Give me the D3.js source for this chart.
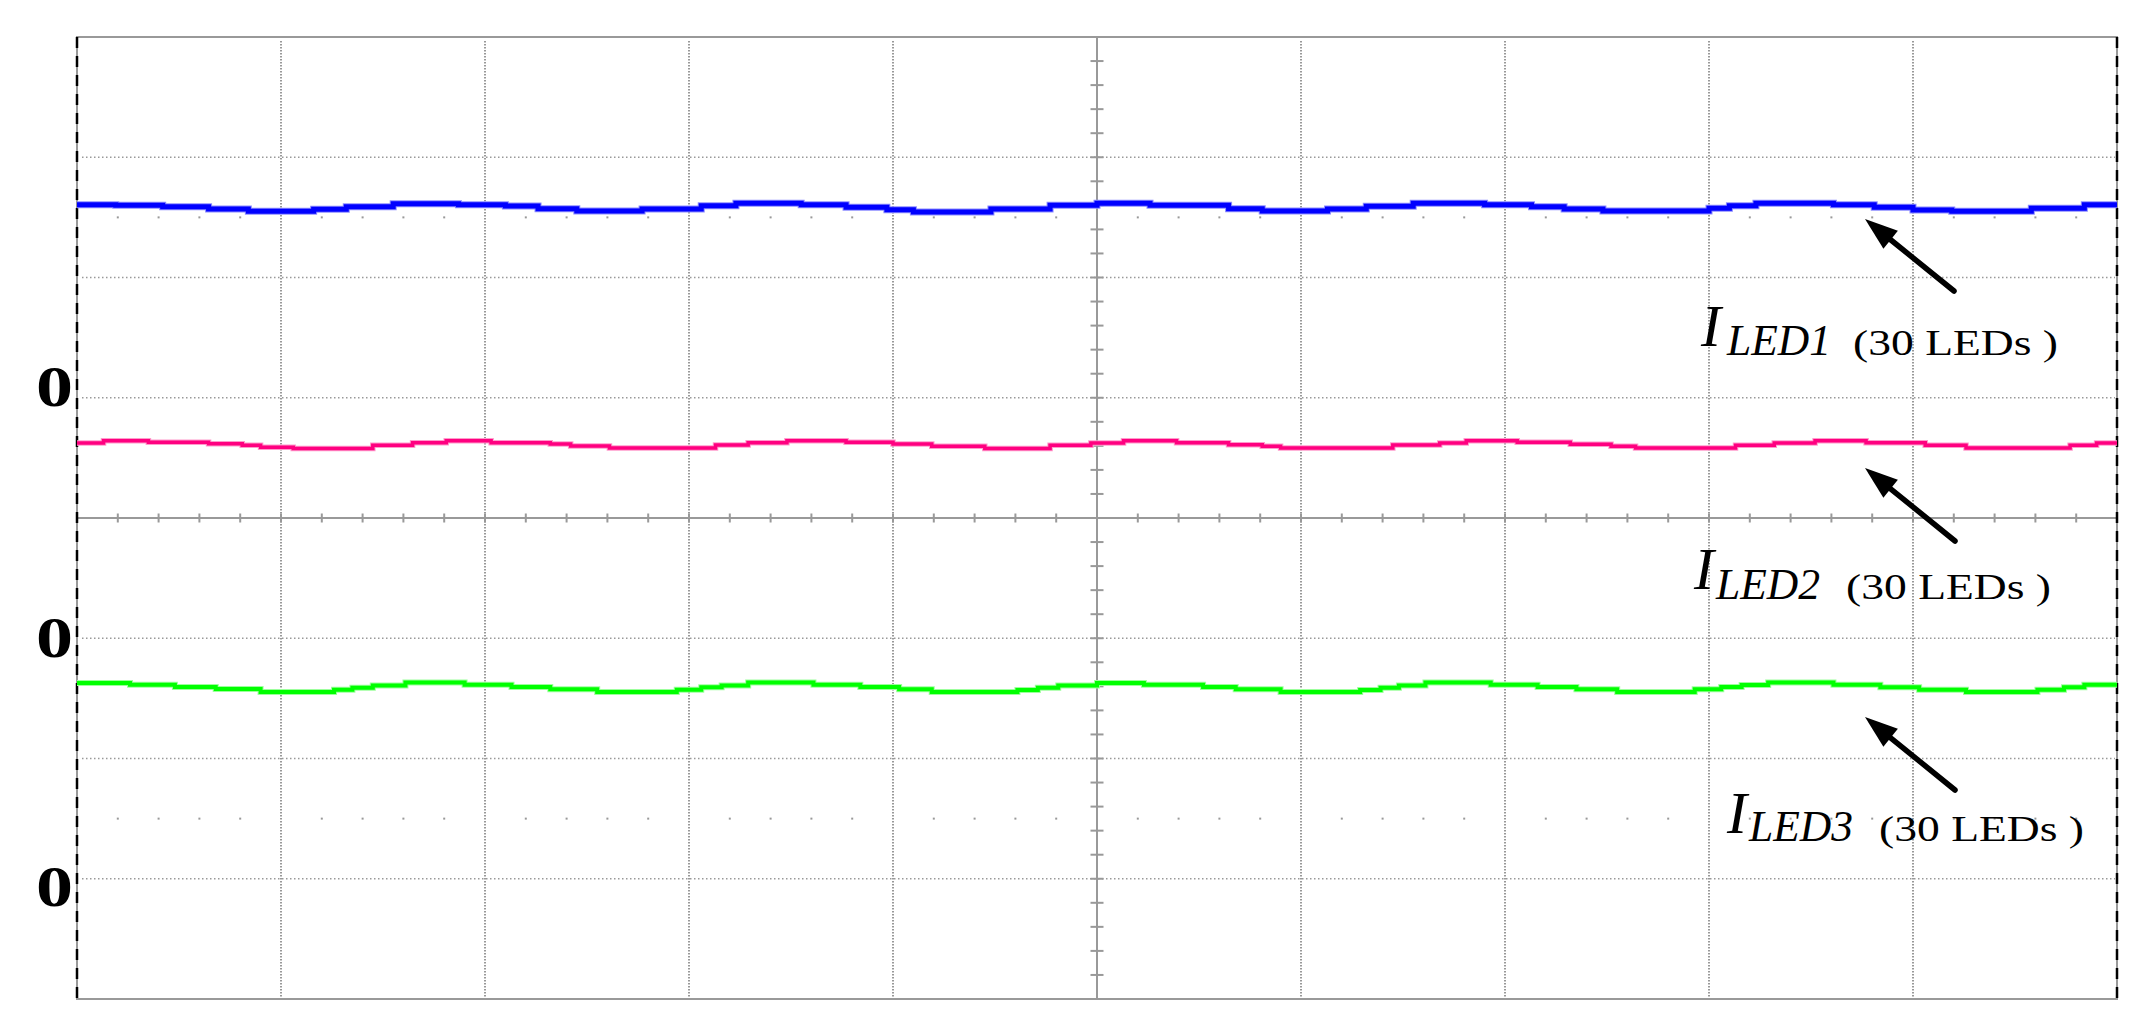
<!DOCTYPE html>
<html>
<head>
<meta charset="utf-8">
<script src="https://cdn.jsdelivr.net/npm/d3@7"></script>
<style>
  body { margin: 0; background: #fff; }
  text { font-family: "Liberation Serif", "Times New Roman", serif; }
</style>
</head>
<body>
<svg id="scope" width="2141" height="1034"></svg>
<script>
// screen divisions
var xDivs = [0, 1, 2, 3, 4, 5, 6, 7, 8, 9, 10],
    yDivs = [-4, -3, -2, -1, 0, 1, 2, 3, 4];

// ground marker of each channel (div) and its label
var channelZero = [1, -1, -3];
var zeroLabels = ["0", "0", "0"];

// traces: [time (div), level above own ground (div)]
var iled1 = [[0,1.606],[0.19,1.600],[0.42,1.589],[0.645,1.570],[0.84,1.550],[1.16,1.567],[1.32,1.589],[1.55,1.614],
  [1.87,1.606],[2.10,1.595],[2.26,1.572],[2.45,1.553],[2.77,1.570],[3.06,1.597],[3.23,1.617],[3.55,1.606],[3.77,1.584],
  [3.97,1.564],[4.10,1.545],[4.48,1.570],[4.77,1.600],[5.00,1.617],[5.26,1.600],[5.645,1.572],[5.81,1.553],[6.13,1.570],
  [6.32,1.592],[6.55,1.617],[6.90,1.606],[7.13,1.589],[7.29,1.570],[7.48,1.553],[8.00,1.575],[8.10,1.597],[8.23,1.617],
  [8.61,1.606],[8.81,1.584],[9.00,1.561],[9.19,1.550],[9.58,1.575],[9.84,1.606],[10,1.606]];

var iled2 = [[0,1.624],[0.13,1.643],[0.35,1.629],[0.645,1.618],[0.81,1.604],[0.90,1.588],[1.06,1.577],[1.45,1.604],
  [1.645,1.626],[1.81,1.643],[2.03,1.626],[2.32,1.615],[2.42,1.599],[2.61,1.582],[3.13,1.607],[3.29,1.626],[3.48,1.643],
  [3.77,1.629],[4.00,1.615],[4.19,1.596],[4.45,1.579],[4.77,1.604],[4.97,1.624],[5.13,1.643],[5.39,1.626],[5.645,1.610],
  [5.81,1.596],[5.90,1.582],[6.45,1.607],[6.68,1.624],[6.81,1.643],[7.06,1.629],[7.32,1.613],[7.52,1.596],[7.64,1.582],
  [8.13,1.604],[8.32,1.624],[8.52,1.643],[8.77,1.626],[9.06,1.604],[9.26,1.582],[9.77,1.604],[9.90,1.624],[10,1.624]];

var iled3 = [[0,1.628],[0.26,1.614],[0.48,1.595],[0.68,1.578],[0.90,1.553],[1.26,1.572],[1.35,1.589],[1.45,1.608],
  [1.61,1.631],[1.90,1.614],[2.13,1.595],[2.32,1.575],[2.55,1.553],[2.94,1.572],[3.06,1.592],[3.16,1.608],[3.29,1.631],
  [3.61,1.614],[3.84,1.595],[4.03,1.575],[4.19,1.553],[4.61,1.570],[4.71,1.589],[4.81,1.608],[5.00,1.628],[5.23,1.614],
  [5.52,1.595],[5.68,1.575],[5.90,1.553],[6.29,1.570],[6.39,1.589],[6.48,1.608],[6.61,1.631],[6.93,1.614],[7.16,1.595],
  [7.35,1.575],[7.55,1.553],[7.93,1.575],[8.06,1.595],[8.16,1.611],[8.29,1.631],[8.61,1.614],[8.84,1.592],[9.03,1.572],
  [9.26,1.553],[9.61,1.572],[9.74,1.592],[9.84,1.614],[10,1.614]];

var traceNames = ["LED1", "LED2", "LED3"];
var ledNote = "(30 LEDs )";

var svg = d3.select("#scope"),
    plotL = 77, plotR = 2117, plotT = 37, plotB = 999;

var x = d3.scaleLinear().domain([0, 10]).range([plotL, plotR]);
var y = d3.scaleLinear().domain([-4, 4]).range([plotB, plotT]);

var grid = svg.append("g");

// dotted major grid
grid.selectAll(".vg")
  .data(xDivs.filter(function(d) { return d > 0 && d < 10 && d !== 5; }))
  .enter().append("line")
    .attr("x1", x).attr("x2", x)
    .attr("y1", plotT + 4).attr("y2", plotB - 2)
    .attr("stroke", "#999").attr("stroke-width", 2)
    .attr("stroke-dasharray", "1.5,1.5");

grid.selectAll(".hg")
  .data(yDivs.filter(function(d) { return Math.abs(d) < 4 && d !== 0; }))
  .enter().append("line")
    .attr("x1", plotL + 5).attr("x2", plotR - 2)
    .attr("y1", y).attr("y2", y)
    .attr("stroke", "#999").attr("stroke-width", 1.5)
    .attr("stroke-dasharray", "1.5,2.5");

// dot rows at +/- 2.5 div
var minorX = d3.range(1, 50).map(function(i) { return i * 0.2; })
  .filter(function(d) { return Math.abs(d - Math.round(d)) > 0.01; });
[2.5, -2.5].forEach(function(row) {
  grid.selectAll(null)
    .data(minorX)
    .enter().append("rect")
      .attr("x", function(d) { return x(d) - 1; })
      .attr("y", y(row) - 1)
      .attr("width", 2).attr("height", 2)
      .attr("fill", "#999");
});

// center axes with minor ticks
grid.append("line")
  .attr("x1", x(5)).attr("x2", x(5)).attr("y1", plotT).attr("y2", plotB)
  .attr("stroke", "#999").attr("stroke-width", 2);
grid.append("line")
  .attr("x1", plotL).attr("x2", plotR).attr("y1", y(0)).attr("y2", y(0))
  .attr("stroke", "#999").attr("stroke-width", 2);

grid.selectAll(".xt")
  .data(d3.range(1, 50).map(function(i) { return i * 0.2; }))
  .enter().append("line")
    .attr("x1", x).attr("x2", x)
    .attr("y1", y(0) - 4.5).attr("y2", y(0) + 4.5)
    .attr("stroke", "#999").attr("stroke-width", 2);

grid.selectAll(".yt")
  .data(d3.range(-19, 20).map(function(i) { return i * 0.2; }))
  .enter().append("line")
    .attr("x1", x(5) - 6.5).attr("x2", x(5) + 6.5)
    .attr("y1", y).attr("y2", y)
    .attr("stroke", "#999").attr("stroke-width", 2);

// frame
grid.append("rect")
  .attr("x", plotL).attr("y", plotT)
  .attr("width", plotR - plotL).attr("height", plotB - plotT)
  .attr("fill", "none").attr("stroke", "#999").attr("stroke-width", 2);
[plotL, plotR].forEach(function(px) {
  grid.append("line")
    .attr("x1", px).attr("x2", px).attr("y1", plotT).attr("y2", plotB)
    .attr("stroke", "#000").attr("stroke-width", 2.5)
    .attr("stroke-dasharray", "11,8");
});

// traces
var traces = [
  { data: iled1, zero: channelZero[0], color: "#0000ff", halo: "#8c8cff", w: 5 },
  { data: iled2, zero: channelZero[1], color: "#ff0080", halo: "#ff9acb", w: 3.5 },
  { data: iled3, zero: channelZero[2], color: "#00ff00", halo: "#9cff9c", w: 4 }
];

traces.forEach(function(tr) {
  var line = d3.line()
    .x(function(d) { return x(d[0]); })
    .y(function(d) { return y(tr.zero + d[1]); })
    .curve(d3.curveStepAfter);
  svg.append("path").datum(tr.data)
    .attr("d", line).attr("fill", "none")
    .attr("stroke", tr.halo).attr("stroke-width", tr.w + 2);
  svg.append("path").datum(tr.data)
    .attr("d", line).attr("fill", "none")
    .attr("stroke", tr.color).attr("stroke-width", tr.w);
});

// ground labels
var zeroNudge = [8, 19, 27];
svg.selectAll(".zl")
  .data(zeroLabels)
  .enter().append("text")
    .attr("x", 36)
    .attr("y", function(d, i) { return y(channelZero[i]) + zeroNudge[i]; })
    .attr("font-size", 57).attr("font-weight", "bold")
    .attr("textLength", 37).attr("lengthAdjust", "spacingAndGlyphs")
    .text(function(d) { return d; });

// arrows and trace names
var notes = [
  { tip: [1865, 219], tail: [1954, 291], I: [1701, 346], sub: [1727, 354.5], paren: [1853, 354.5] },
  { tip: [1865, 468], tail: [1955, 541], I: [1694, 589], sub: [1716, 598.5], paren: [1846, 598.5] },
  { tip: [1865, 717], tail: [1955, 790], I: [1727, 832.5], sub: [1749, 841], paren: [1879, 841] }
];

notes.forEach(function(n, i) {
  var dx = n.tip[0] - n.tail[0], dy = n.tip[1] - n.tail[1],
      len = Math.sqrt(dx * dx + dy * dy), ux = dx / len, uy = dy / len,
      headLen = 33, headW = 11.5,
      bx = n.tip[0] - ux * headLen, by = n.tip[1] - uy * headLen;

  svg.append("line")
    .attr("x1", n.tail[0]).attr("y1", n.tail[1])
    .attr("x2", bx + ux * 4).attr("y2", by + uy * 4)
    .attr("stroke", "#000").attr("stroke-width", 5.5).attr("stroke-linecap", "round");
  svg.append("path")
    .attr("d", "M" + n.tip[0] + "," + n.tip[1] +
               "L" + (bx - uy * headW) + "," + (by + ux * headW) +
               "L" + (bx + uy * headW) + "," + (by - ux * headW) + "Z")
    .attr("fill", "#000");

  svg.append("text")
    .attr("x", n.I[0]).attr("y", n.I[1])
    .attr("font-size", 60).attr("font-style", "italic")
    .text("I");
  svg.append("text")
    .attr("x", n.sub[0]).attr("y", n.sub[1])
    .attr("font-size", 45).attr("font-style", "italic")
    .attr("textLength", 104).attr("lengthAdjust", "spacingAndGlyphs")
    .text(traceNames[i]);
  svg.append("text")
    .attr("x", n.paren[0]).attr("y", n.paren[1])
    .attr("font-size", 36)
    .attr("textLength", 205).attr("lengthAdjust", "spacingAndGlyphs")
    .text(ledNote);
});
</script>
</body>
</html>
